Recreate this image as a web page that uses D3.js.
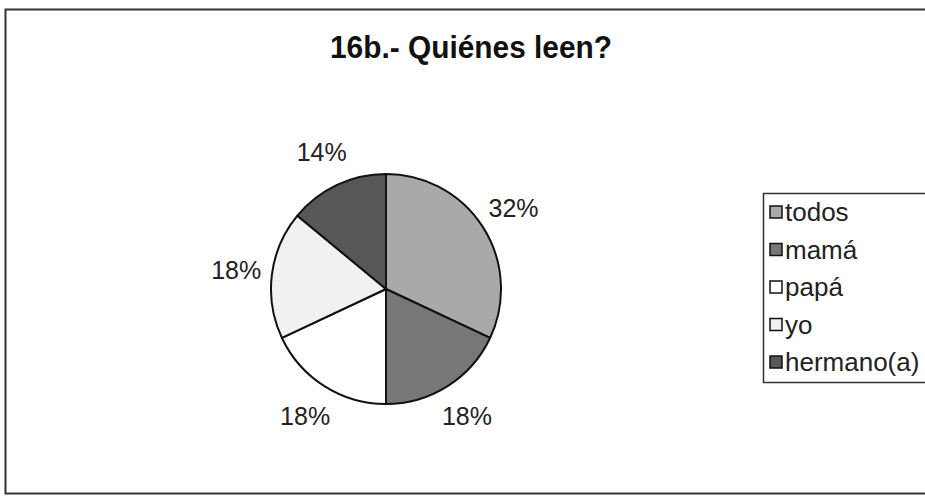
<!DOCTYPE html>
<html>
<head>
<meta charset="utf-8">
<script src="https://cdn.jsdelivr.net/npm/d3@7"></script>
<style>
  body { margin: 0; background: #fff; }
  svg { display: block; font-family: "Liberation Sans", Arial, sans-serif; }
</style>
</head>
<body>
<div id="chart"></div>
<script>
const title = "16b.- Quiénes leen?";
const categories = ["todos", "mamá", "papá", "yo", "hermano(a)"];
const values = [32, 18, 18, 18, 14];
const colors = ["#a9a9a9", "#777777", "#ffffff", "#f1f1f1", "#575757"];

const width = 925;
const height = 500;
const cx = 386;
const cy = 289;
const radius = 115;

const svg = d3.select("#chart").append("svg")
  .attr("width", width)
  .attr("height", height)
  .attr("viewBox", [0, 0, width, height]);

// outer frame (right edge runs off the page)
svg.append("rect")
  .attr("x", 5.5).attr("y", 9.5)
  .attr("width", width + 10).attr("height", 484)
  .attr("fill", "#fff")
  .attr("stroke", "#333")
  .attr("stroke-width", 2);

svg.append("text")
  .attr("x", 471)
  .attr("y", 58)
  .attr("text-anchor", "middle")
  .attr("font-size", 32)
  .attr("font-weight", "bold")
  .attr("fill", "#111")
  .attr("textLength", 282)
  .attr("lengthAdjust", "spacingAndGlyphs")
  .text(title);

const data = categories.map((c, i) => ({ name: c, value: values[i], color: colors[i] }));

const pie = d3.pie().sort(null).value(d => d.value);
const arcs = pie(data);
const arc = d3.arc().innerRadius(0).outerRadius(radius);

const g = svg.append("g").attr("transform", `translate(${cx},${cy})`);

g.selectAll("path")
  .data(arcs)
  .join("path")
  .attr("d", arc)
  .attr("fill", d => d.data.color)
  .attr("stroke", "#111")
  .attr("stroke-width", 2)
  .attr("stroke-linejoin", "round");

// percentage labels outside the pie
const labelArc = d3.arc().innerRadius(radius + 36).outerRadius(radius + 36);
const total = d3.sum(values);

g.selectAll("text.pct")
  .data(arcs)
  .join("text")
  .attr("class", "pct")
  .attr("transform", d => `translate(${labelArc.centroid(d)})`)
  .attr("text-anchor", "middle")
  .attr("dy", "0.36em")
  .attr("font-size", 25)
  .attr("fill", "#222")
  .text(d => Math.round(d.data.value / total * 100) + "%");

// legend
const legend = svg.append("g").attr("transform", "translate(763,193)");

legend.append("rect")
  .attr("x", 0.5).attr("y", 0.5)
  .attr("width", 200).attr("height", 189)
  .attr("fill", "#fff")
  .attr("stroke", "#333")
  .attr("stroke-width", 1.5);

const item = legend.selectAll("g.item")
  .data(data)
  .join("g")
  .attr("class", "item")
  .attr("transform", (d, i) => `translate(7,${19 + i * 37.5})`);

item.append("rect")
  .attr("x", 0).attr("y", -6)
  .attr("width", 12).attr("height", 12)
  .attr("fill", d => d.color)
  .attr("stroke", "#111")
  .attr("stroke-width", 1.5);

item.append("text")
  .attr("x", 15)
  .attr("dy", "0.36em")
  .attr("font-size", 26)
  .attr("fill", "#222")
  .text(d => d.name);
</script>
</body>
</html>
